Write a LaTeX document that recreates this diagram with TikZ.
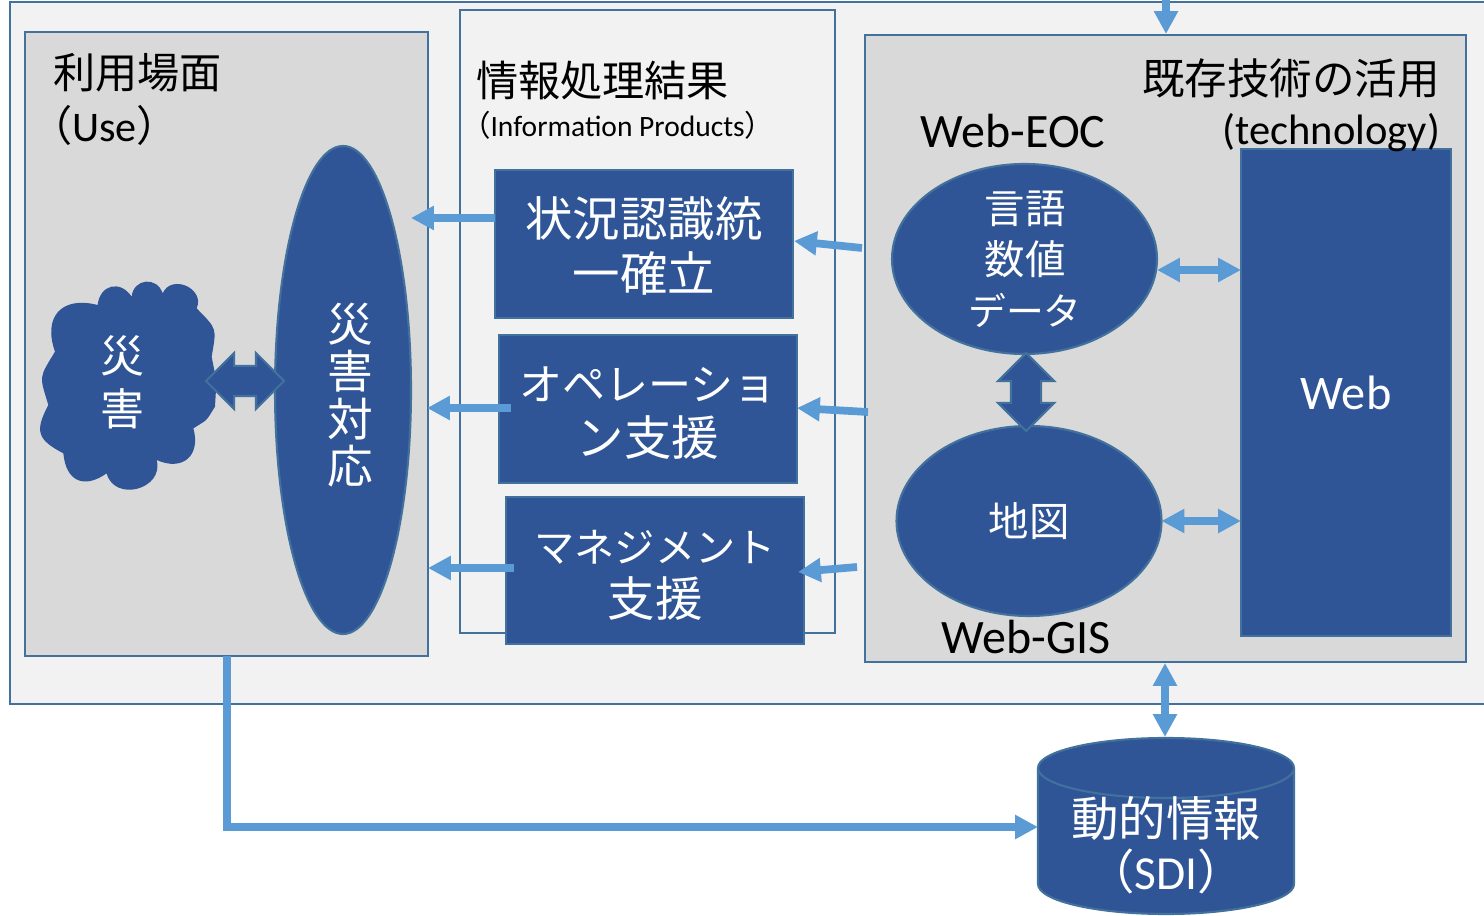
\documentclass[tikz,border=0pt]{standalone}
\usepackage{fontspec}
\setmainfont{Carlito}
\newfontfamily\jpfont{Noto Sans CJK JP}
\usetikzlibrary{shapes.geometric,shapes.arrows,arrows.meta}
\definecolor{boxblue}{HTML}{2F5597}
\definecolor{edgeblue}{HTML}{41719C}
\definecolor{flowblue}{HTML}{5B9BD5}
\definecolor{panelgray}{HTML}{D9D9D9}
\definecolor{framegray}{HTML}{F2F2F2}
\newcommand{\kana}[2]{{\fontsize{#1}{31}\selectfont #2}}
\newcommand{\head}[1]{{\fontsize{24}{28}\selectfont\jpfont #1}}
\newcommand{\down}[1]{\rule{0pt}{#1pt}}
\begin{document}
\begin{tikzpicture}[
  panel/.style={draw=edgeblue,line width=1.2pt,fill=panelgray,rectangle,outer sep=0pt,inner sep=0pt},
  whitepanel/.style={panel,fill=framegray},
  bluebox/.style={draw=edgeblue,line width=1.2pt,fill=boxblue,text=white,rectangle,align=center,outer sep=0pt,inner sep=0pt,minimum width=5.96cm,minimum height=2.96cm,font=\fontsize{27}{31}\selectfont\jpfont},
  blueoval/.style={draw=edgeblue,line width=1.2pt,fill=boxblue,text=white,ellipse,align=center,outer sep=0pt,inner sep=0pt,font=\fontsize{23}{29}\selectfont\jpfont},
  bluearrow/.style={draw=edgeblue,line width=1.2pt,fill=boxblue,double arrow,minimum width=1.08cm,minimum height=1.56cm,inner sep=.28cm,outer sep=0pt,double arrow head extend=.26cm},
  lab/.style={inner sep=0pt,outer sep=0pt,align=left},
  flow/.style={draw=flowblue,line width=4.4pt,-{Triangle[length=13pt,width=13pt]}},
  flowboth/.style={draw=flowblue,line width=4.4pt,{Triangle[length=13pt,width=13pt]}-{Triangle[length=13pt,width=13pt]}}
]
\clip (0,0) rectangle (29.68,18.3);
\node (frame) at (16.1,11.24) [whitepanel,minimum width=31.8cm,minimum height=14.04cm] {};
\node (use) at (4.53,11.42) [panel,minimum width=8.06cm,minimum height=12.48cm] {};
\node (products) at (12.95,11.87) [whitepanel,minimum width=7.5cm,minimum height=12.46cm] {};
\node (tech) at (23.31,11.33) [panel,minimum width=12.02cm,minimum height=12.54cm] {};
\node (usetitle) at (1.06,16.84) [lab,anchor=west] {\head{利用場面}};
\node (usesub) at (.6,15.8) [lab,anchor=west] {\fontsize{24}{28}\selectfont{\jpfont （}Use{\jpfont ）}};
\node (prodtitle) at (9.52,16.68) [lab,anchor=west] {\head{情報処理結果}};
\node (prodsub) at (9.22,15.8) [lab,anchor=west] {\fontsize{16.8}{20}\selectfont{\jpfont （}Information Products{\jpfont ）}};
\node (techtitle) at (28.8,16.74) [lab,anchor=east] {\fontsize{24.2}{28}\selectfont\jpfont 既存技術の活用};
\node (web) at (26.92,10.45) [bluebox,minimum width=4.2cm,minimum height=9.74cm,font=\fontsize{27.5}{31}\selectfont] {Web};
\node (techsub) at (28.8,15.64) [lab,anchor=east] {\fontsize{24.2}{31}\selectfont (technology)};
\node (eoc) at (20.26,15.68) [lab] {\fontsize{27.3}{31}\selectfont Web-EOC};
\node (gis) at (20.52,5.56) [lab] {\fontsize{27.3}{31}\selectfont Web-GIS};
\fill[boxblue,looseness=1.5] (1.953,12.2) to[bend left=70] (2.633,12.367) to[bend left=78] (3.253,12.433) to[bend left=90] (3.933,12.133) to[bend left=27] (4.233,11.167) to[bend left=7] (4.3,10.167) to[bend left=13] (3.867,9.733) to[bend left=65] (3.133,9.1) to[bend left=90] (2.133,8.833) to[bend left=60] (1.267,9.233) to[bend left=45] (.967,10.2) to[bend left=24] (1.1,11.267) to[bend left=62] (1.953,12.2) -- cycle;
\node (disaster) at (2.44,10.66) [lab,text=white,align=center,font=\fontsize{25}{30}\selectfont\jpfont] {災\\害};
\node (response) at (6.86,10.5) [blueoval,minimum width=2.72cm,minimum height=9.76cm] {};
\node (resptext) at (7.0,10.4) [lab,text=white,align=center,font=\fontsize{26}{27}\selectfont\jpfont] {災\\害\\対\\応};
\node (dis2resp) at (4.9,10.68) [bluearrow] {};
\node (situ) at (12.88,13.42) [bluebox] {\down{25}状況認識統\\一確立};
\node (oper) at (12.96,10.12) [bluebox] {\down{24}\kana{24.5}{オペレーショ}\\ン支援};
\node (mgmt) at (13.1,6.89) [bluebox,minimum height=2.94cm] {\down{23.8}\kana{22.9}{マネジメント}\\支援};
\node (lang) at (20.49,13.12) [blueoval,minimum width=5.3cm,minimum height=3.8cm] {};
\node (langtext) at (20.5,13.12) [lab,text=white,align=center,font=\fontsize{23}{29}\selectfont\jpfont] {言語\\数値\\\kana{21.5}{データ}};
\node (map) at (20.58,7.88) [blueoval,minimum width=5.3cm,minimum height=3.8cm] {地図};
\node (lang2map) at (20.52,10.46) [bluearrow,shape border rotate=90] {};
\node (sdi) at (23.32,1.78) [cylinder,anchor=shape center,shape border rotate=90,aspect=.47,minimum width=5.12cm,minimum height=2.48cm,inner sep=0pt,outer sep=0pt,font=\fontsize{27}{31}\selectfont\jpfont] {\phantom{動的情報}};
\draw[edgeblue,line width=1.2pt,fill=boxblue] (20.76,2.94) arc[start angle=180,end angle=360,x radius=2.56,y radius=.6] arc[start angle=0,end angle=180,x radius=2.56,y radius=.6] -- (20.76,.62) arc[start angle=180,end angle=360,x radius=2.56,y radius=.6] -- (25.88,2.94);
\node (sditext) at (23.32,1.4) [lab,text=white,align=center,font=\fontsize{27}{30}\selectfont\jpfont] {動的情報\\（\rmfamily\setmainfont{Carlito}SDI\jpfont ）};
\coordinate (inA) at (8.22,13.94);
\coordinate (inB) at (8.54,10.14);
\coordinate (inC) at (8.56,6.94);
\coordinate (outB) at (10.22,10.14);
\coordinate (outC) at (10.28,6.94);
\coordinate (tailA) at (17.24,13.34);
\coordinate (tailB) at (17.36,10.06);
\coordinate (tailC) at (17.14,6.96);
\coordinate (headA) at (15.88,13.48);
\coordinate (headB) at (15.94,10.14);
\coordinate (headC) at (15.96,6.86);
\coordinate (upper) at (23.32,18.9);
\coordinate (toptip) at (23.32,17.62);
\coordinate (lowtip) at (23.3,5.04);
\coordinate (sditop) at (23.3,3.56);
\coordinate (corner) at (4.54,1.76);
\draw[flow] ([yshift=.52cm]situ.west) -- (inA);
\draw[flow] (outB) -- (inB);
\draw[flow] (outC) -- (inC);
\draw[flow] (tailA) -- (headA);
\draw[flow] (tailB) -- (headB);
\draw[flow] (tailC) -- (headC);
\draw[flowboth] ([yshift=-.22cm]lang.east) -- ([yshift=2.45cm]web.west);
\draw[flowboth] (map.east) -- (map.east -| web.west);
\draw[flowboth] (upper) -- (toptip);
\draw[flowboth] (lowtip) -- (sditop);
\draw[flow] (use.south -| corner) -- (corner) -- (corner -| sdi.west);
\end{tikzpicture}
\end{document}
